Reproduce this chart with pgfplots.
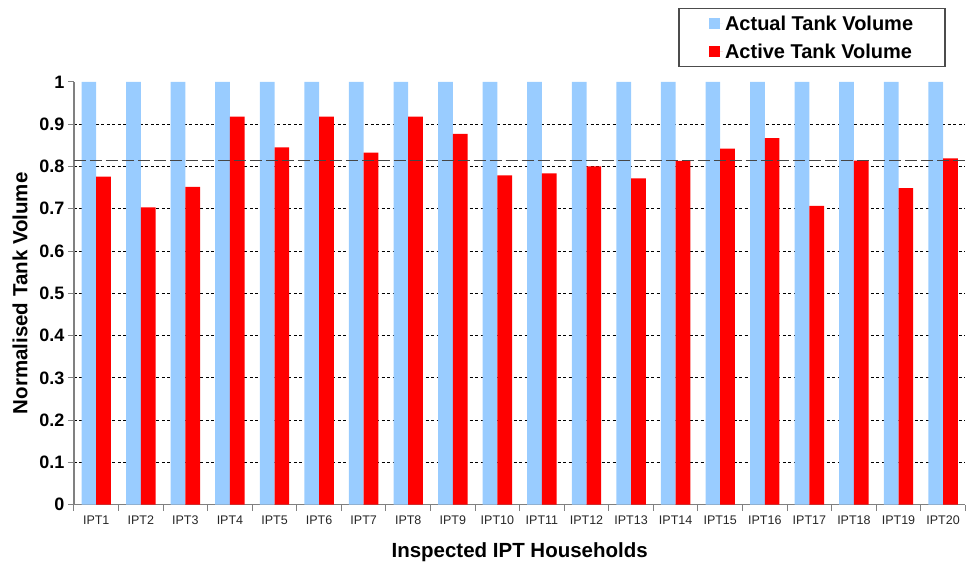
\documentclass[border=0pt]{standalone}
\usepackage{fontspec}
\setmainfont{Liberation Sans}
\usepackage{pgfplots}
\pgfplotsset{compat=1.18}
\definecolor{actualblue}{RGB}{153,204,255}
\definecolor{activered}{RGB}{255,0,0}
\definecolor{axisgray}{RGB}{128,128,128}
\definecolor{meangray}{RGB}{70,70,70}
\begin{document}
\begin{tikzpicture}
\begin{axis}[
  scale only axis,
  width=892pt, height=423pt,
  xmin=-0.5, xmax=19.5,
  ymin=0, ymax=1,
  axis x line=bottom, axis y line=left,
  axis line style={-, axisgray, line width=1.3pt},
  xtick={0,...,19},
  xticklabels={IPT1,IPT2,IPT3,IPT4,IPT5,IPT6,IPT7,IPT8,IPT9,IPT10,IPT11,IPT12,IPT13,IPT14,IPT15,IPT16,IPT17,IPT18,IPT19,IPT20},
  major x tick style={draw=none},
  minor xtick={-0.5,0.5,...,19.5},
  minor x tick style={axisgray, line width=1pt},
  minor tick length=6pt,
  ytick={0,0.1,0.2,0.3,0.4,0.5,0.6,0.7,0.8,0.9},
  yticklabels={0,0.1,0.2,0.3,0.4,0.5,0.6,0.7,0.8,0.9},
  extra y ticks={1}, extra y tick labels={1},
  extra y tick style={grid=none},
  major y tick style={axisgray, line width=1pt},
  tick align=outside,
  major tick length=6pt,
  ymajorgrids,
  grid style={black, line width=0.9pt, dash pattern=on 3pt off 2.5pt},
  x tick label style={font=\fontsize{12.5}{14}\selectfont, text=black!85, yshift=-2pt},
  y tick label style={font=\bfseries\fontsize{18}{20}\selectfont},
  xlabel={Inspected IPT Households},
  ylabel={Normalised Tank Volume},
  xlabel style={font=\bfseries\fontsize{20.5}{22}\selectfont, yshift=-11pt},
  ylabel style={font=\bfseries\fontsize{20.5}{22}\selectfont, yshift=-7pt},
  legend style={at={(0.978,1.175)}, anchor=north east, draw=black!70, line width=1.3pt,
    font=\bfseries\fontsize{20}{22}\selectfont, inner xsep=30pt, inner ysep=5pt,
    row sep=8pt},
  legend cell align=left,
  legend image code/.code={\fill[#1] (0pt,-5.5pt) rectangle (11pt,5.5pt);
    \path (0pt,0pt) -- (14pt,0pt);},
]
\addplot[ybar, bar width=0.33, bar shift=-0.165, fill=actualblue, draw=none]
  coordinates {(0,1) (1,1) (2,1) (3,1) (4,1) (5,1) (6,1) (7,1) (8,1) (9,1)
               (10,1) (11,1) (12,1) (13,1) (14,1) (15,1) (16,1) (17,1) (18,1) (19,1)};
\addlegendentry{Actual Tank Volume}
\addplot[ybar, bar width=0.33, bar shift=0.165, fill=activered, draw=none]
  coordinates {(0,0.776) (1,0.703) (2,0.752) (3,0.918) (4,0.845) (5,0.918) (6,0.833)
               (7,0.918) (8,0.877) (9,0.779) (10,0.784) (11,0.800) (12,0.772) (13,0.813)
               (14,0.842) (15,0.867) (16,0.707) (17,0.814) (18,0.749) (19,0.819)};
\addlegendentry{Active Tank Volume}
\addplot[forget plot, meangray, line width=1.1pt, dash pattern=on 12pt off 4pt]
  coordinates {(-0.5,0.814) (19.5,0.814)};
\end{axis}
\path (-74pt,-61pt) rectangle (892pt,505pt);
\end{tikzpicture}
\end{document}
